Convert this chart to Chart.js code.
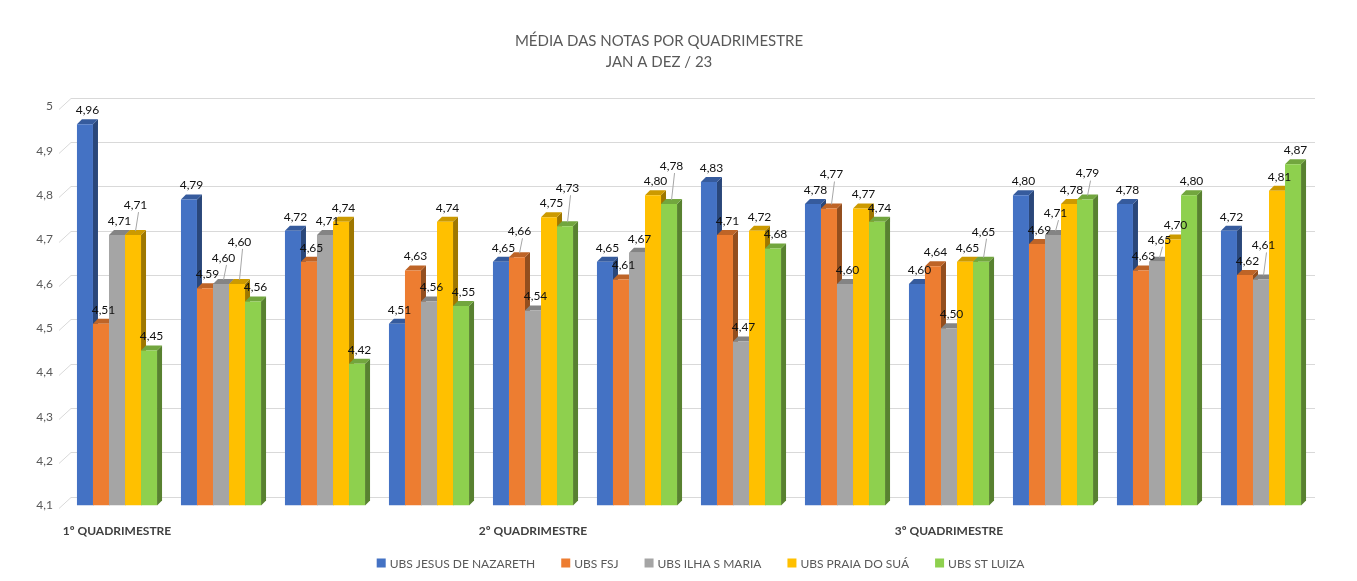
<!DOCTYPE html>
<html>
<head>
<meta charset="utf-8">
<script src="https://cdn.jsdelivr.net/npm/chart.js@4"></script>
<style>
  body { margin: 0; background: #fff; }
  #wrap { width: 1357px; height: 581px; }
</style>
</head>
<body>
<div id="wrap"><canvas id="chart"></canvas></div>
<script>
// months of the year, grouped by quadrimester on the axis
const months = ['JAN', 'FEV', 'MAR', 'ABR', 'MAI', 'JUN', 'JUL', 'AGO', 'SET', 'OUT', 'NOV', 'DEZ'];
const quadLabels = ['1º QUADRIMESTRE', '', '', '', '2º QUADRIMESTRE', '', '', '', '3º QUADRIMESTRE', '', '', ''];

const jesusNazareth = [4.96, 4.79, 4.72, 4.51, 4.65, 4.65, 4.83, 4.78, 4.60, 4.80, 4.78, 4.72];
const fsj           = [4.51, 4.59, 4.65, 4.63, 4.66, 4.61, 4.71, 4.77, 4.64, 4.69, 4.63, 4.62];
const ilhaSMaria    = [4.71, 4.60, 4.71, 4.56, 4.54, 4.67, 4.47, 4.60, 4.50, 4.71, 4.65, 4.61];
const praiaDoSua    = [4.71, 4.60, 4.74, 4.74, 4.75, 4.80, 4.72, 4.77, 4.65, 4.78, 4.70, 4.81];
const stLuiza       = [4.45, 4.56, 4.42, 4.55, 4.73, 4.78, 4.68, 4.74, 4.65, 4.79, 4.80, 4.87];

const yTicks = [4.1, 4.2, 4.3, 4.4, 4.5, 4.6, 4.7, 4.8, 4.9, 5];

const colors = ['#4472C4', '#ED7D31', '#A5A5A5', '#FFC000', '#8ED04E'];
const names = ['UBS JESUS DE NAZARETH', 'UBS FSJ', 'UBS ILHA S MARIA', 'UBS PRAIA DO SUÁ', 'UBS ST LUIZA'];
const series = [jesusNazareth, fsj, ilhaSMaria, praiaDoSua, stLuiza];

const FONT = 'Lato, "Open Sans", sans-serif';
const DX = 5, DY = 5; // bar depth

function shade(hex, f) {
  const n = parseInt(hex.slice(1), 16);
  const r = Math.round(((n >> 16) & 255) * f);
  const g = Math.round(((n >> 8) & 255) * f);
  const b = Math.round((n & 255) * f);
  return `rgb(${r},${g},${b})`;
}

const fmt = v => v.toFixed(2).replace('.', ',');

// back-wall grid + 3D faces of the bars, drawn before the fronts
const bars3d = {
  id: 'bars3d',
  beforeDatasetsDraw(chart) {
    const { ctx, chartArea, scales } = chart;
    ctx.save();
    ctx.strokeStyle = '#d9d9d9';
    ctx.lineWidth = 1;
    yTicks.forEach(v => {
      const y = Math.round(scales.y.getPixelForValue(v)) + 0.5;
      ctx.beginPath();
      ctx.moveTo(chartArea.left - 6, y + 2);
      ctx.lineTo(chartArea.left + 6, y - 9);
      ctx.lineTo(chartArea.right + 2, y - 9);
      ctx.stroke();
    });
    chart.data.datasets.forEach((ds, di) => {
      const meta = chart.getDatasetMeta(di);
      meta.data.forEach(el => {
        const l = el.x - el.width / 2, r = el.x + el.width / 2;
        const t = el.y, b = el.base;
        ctx.fillStyle = shade(ds.backgroundColor, 0.62);
        ctx.beginPath();
        ctx.moveTo(r, t); ctx.lineTo(r + DX, t - DY); ctx.lineTo(r + DX, b - DY); ctx.lineTo(r, b);
        ctx.closePath(); ctx.fill();
        ctx.fillStyle = shade(ds.backgroundColor, 0.8);
        ctx.beginPath();
        ctx.moveTo(l, t); ctx.lineTo(l + DX, t - DY); ctx.lineTo(r + DX, t - DY); ctx.lineTo(r, t);
        ctx.closePath(); ctx.fill();
      });
    });
    ctx.restore();
  },
  afterDatasetsDraw(chart) {
    const { ctx } = chart;
    ctx.save();
    ctx.font = '12px ' + FONT;
    ctx.textAlign = 'center';
    ctx.textBaseline = 'middle';
    const n = chart.data.labels.length;
    for (let i = 0; i < n; i++) {
      const placed = [];
      chart.data.datasets.forEach((ds, di) => {
        const el = chart.getDatasetMeta(di).data[i];
        const txt = fmt(ds.data[i]);
        const w = ctx.measureText(txt).width + 2, h = 13;
        const cx = el.x + DX / 2;
        const y0 = el.y - DY - 9;
        let cy = y0;
        const hit = () => placed.some(p => Math.abs(p.x - cx) < (p.w + w) / 2 && Math.abs(p.y - cy) < h);
        while (hit()) cy -= 4;
        if (cy < y0 - 2) {
          ctx.strokeStyle = '#a6a6a6';
          ctx.beginPath();
          ctx.moveTo(cx + 3, cy + 7);
          ctx.lineTo(cx, el.y - DY + 1);
          ctx.stroke();
        }
        placed.push({ x: cx, y: cy, w });
        ctx.fillStyle = '#111';
        ctx.fillText(txt, cx, cy);
      });
    }
    ctx.restore();
  }
};

// bottom legend with square markers
const legendRow = {
  id: 'legendRow',
  afterDraw(chart) {
    const { ctx, width } = chart;
    ctx.save();
    ctx.font = '12px ' + FONT;
    ctx.textBaseline = 'middle';
    const box = 9, gapText = 4, gapItem = 26;
    const widths = names.map(t => box + gapText + ctx.measureText(t).width);
    const total = widths.reduce((a, b) => a + b, 0) + gapItem * (names.length - 1);
    let x = (width - total) / 2 + 22;
    const y = 564;
    names.forEach((t, k) => {
      ctx.fillStyle = colors[k];
      ctx.fillRect(x, y - box / 2 - 1, box, box);
      ctx.fillStyle = '#595959';
      ctx.fillText(t, x + box + gapText, y);
      x += widths[k] + gapItem;
    });
    ctx.restore();
  }
};

new Chart(document.getElementById('chart'), {
  type: 'bar',
  data: {
    labels: months,
    datasets: series.map((d, k) => ({
      label: names[k],
      data: d,
      backgroundColor: colors[k],
      base: 4.1,
      borderWidth: 0
    }))
  },
  plugins: [bars3d, legendRow],
  options: {
    responsive: true,
    maintainAspectRatio: false,
    animation: false,
    categoryPercentage: 0.77,
    barPercentage: 1.0,
    layout: { padding: { left: 5, right: 44, top: 0, bottom: 33 } },
    plugins: {
      tooltip: { enabled: false },
      legend: { display: false },
      title: {
        display: true,
        text: ['MÉDIA DAS NOTAS POR QUADRIMESTRE', 'JAN A DEZ / 23'],
        color: '#595959',
        font: { family: FONT, size: 15, weight: 'normal', lineHeight: 1.45 },
        padding: { top: 30, bottom: 33 }
      }
    },
    scales: {
      x: {
        grid: { display: false },
        border: { display: false },
        ticks: {
          autoSkip: false,
          maxRotation: 0,
          minRotation: 0,
          padding: 10,
          color: '#404040',
          font: { family: FONT, size: 12, weight: 'bold' },
          callback: (v, i) => quadLabels[i]
        }
      },
      y: {
        min: 4.1,
        max: 5,
        afterBuildTicks: s => { s.ticks = yTicks.map(v => ({ value: v })); },
        afterFit: s => { s.width = 60; },
        grid: { display: false },
        border: { display: false },
        ticks: {
          color: '#595959',
          padding: 4,
          font: { family: FONT, size: 12 },
          callback: v => String(v).replace('.', ',')
        }
      }
    }
  }
});
</script>
</body>
</html>
